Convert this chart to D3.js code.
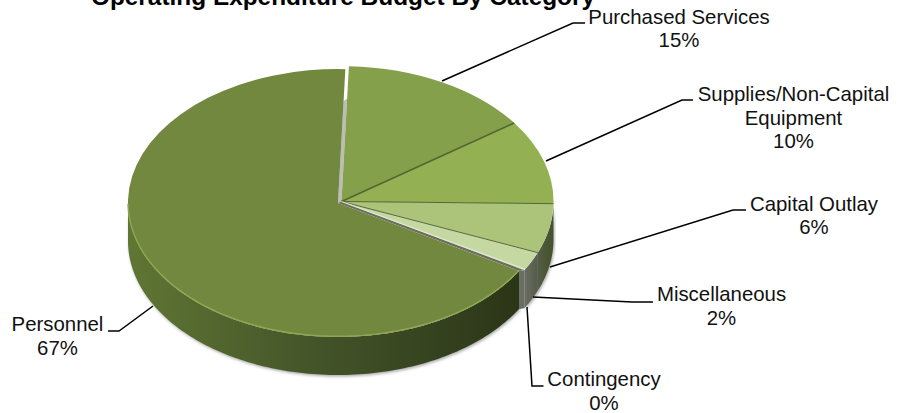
<!DOCTYPE html>
<html>
<head>
<meta charset="utf-8">
<script src="https://d3js.org/d3.v7.min.js"></script>
<style>
  html, body { margin: 0; padding: 0; background: #fff; }
  svg { display: block; }
  text { font-family: "Liberation Sans", Arial, sans-serif; fill: #111; }
</style>
</head>
<body>
<div id="chart"></div>
<script>
var categories = ["Purchased Services", "Supplies/Non-Capital Equipment", "Capital Outlay", "Miscellaneous", "Contingency", "Personnel"];
var values = [14.6, 10.1, 5.9, 2.2, 0.1, 67.1];
var topColors = ["#84a04b", "#93b053", "#abc47a", "#c5d8a2", "#9aa08a", "#73883f"];
var title = "Operating Expenditure Budget By Category";

// label layout, same order as categories
var labelLines = [["Purchased Services"], ["Supplies/Non-Capital", "Equipment"], ["Capital Outlay"], ["Miscellaneous"], ["Contingency"], ["Personnel"]];
var labelX = [679, 793.5, 814, 721.5, 604, 57.5];
var labelY = [23.5, 101, 210.5, 301, 386, 331];
var leaders = [
  [[442, 81], [573, 23], [585, 23]],
  [[546, 161], [682, 100], [693, 100]],
  [[550, 267], [733, 210], [746, 210]],
  [[533, 297], [632, 302], [653, 302]],
  [[527, 307], [532, 386], [543.5, 386]],
  [[153, 306], [119, 331], [108, 331]]
];

var width = 898, height = 413;
var depth = 38;
var mainE = {cx: 341.5, cy: 201.5, rx: 212, ry: 135.5};
var persE = {cx: 338, cy: 203, rx: 210, ry: 134};

var svg = d3.select("#chart").append("svg")
  .attr("width", width)
  .attr("height", height);

var defs = svg.append("defs");
defs.append("filter").attr("id", "soft").attr("x", "-5%").attr("y", "-5%").attr("width", "110%").attr("height", "110%")
  .append("feGaussianBlur").attr("stdDeviation", 1.6);

var wallGrad = defs.append("linearGradient").attr("id", "wallGrad")
  .attr("gradientUnits", "userSpaceOnUse")
  .attr("x1", 128).attr("x2", 520).attr("y1", 0).attr("y2", 0);
wallGrad.append("stop").attr("offset", "0%").attr("stop-color", "#607633");
wallGrad.append("stop").attr("offset", "45%").attr("stop-color", "#45562a");
wallGrad.append("stop").attr("offset", "100%").attr("stop-color", "#2b3517");

var rightGrad = defs.append("linearGradient").attr("id", "rightGrad")
  .attr("gradientUnits", "userSpaceOnUse")
  .attr("x1", 522).attr("x2", 553).attr("y1", 0).attr("y2", 0);
rightGrad.append("stop").attr("offset", "0%").attr("stop-color", "#6d7167");
rightGrad.append("stop").attr("offset", "50%").attr("stop-color", "#565c4a");
rightGrad.append("stop").attr("offset", "75%").attr("stop-color", "#4b5735");
rightGrad.append("stop").attr("offset", "100%").attr("stop-color", "#46522e");

var pie = d3.pie().sort(null).startAngle(2 * Math.PI / 180).endAngle(362 * Math.PI / 180);
var arcs = pie(values);
var arc = d3.arc().innerRadius(0).outerRadius(1);
var personnel = arcs[5];

function pt(e, a, dy) {
  return [e.cx + e.rx * Math.sin(a), e.cy - e.ry * Math.cos(a) + (dy || 0)];
}

function center(e) {
  return [e.cx, e.cy];
}

function along(a, b, t) {
  return [a[0] + (b[0] - a[0]) * t, a[1] + (b[1] - a[1]) * t];
}

// outer wall of a slice, only the front half of the ellipse shows
function wallPath(e, a0, a1) {
  var from = Math.max(a0, Math.PI / 2), to = Math.min(a1, 3 * Math.PI / 2);
  if (from >= to) return null;
  var steps = d3.range(from, to, 0.02).concat([to]);
  var upper = steps.map(function (a) { return pt(e, a, 0); });
  var lower = steps.slice().reverse().map(function (a) { return pt(e, a, depth); });
  return "M" + upper.concat(lower).join("L") + "Z";
}

// soft shadow around the body
var smallWalls = wallPath(mainE, Math.PI / 2, personnel.startAngle);
[wallPath(persE, personnel.startAngle, personnel.endAngle), smallWalls].forEach(function (p) {
  svg.append("path")
    .attr("d", p)
    .attr("fill", "#555")
    .attr("opacity", 0.5)
    .attr("filter", "url(#soft)")
    .attr("transform", "translate(1,1.5)");
});

// inner face seen through the gap at the top
var gapAngle = 2 * Math.PI / 180;
svg.append("path")
  .attr("d", d3.line()([
    center(persE),
    along(center(persE), pt(persE, gapAngle), 0.76),
    along(center(mainE), pt(mainE, gapAngle), 0.76),
    center(mainE)
  ]))
  .attr("fill", "#bdbdb8");

// inner face below the miscellaneous slice
svg.append("path")
  .attr("d", d3.line()([center(persE), pt(persE, personnel.startAngle), pt(mainE, personnel.startAngle), center(mainE)]))
  .attr("fill", "#6c6e62");

// walls, back to front
arcs.forEach(function (d, i) {
  if (i === 5) return;
  var p = wallPath(mainE, d.startAngle, d.endAngle);
  if (p) {
    svg.append("path").attr("d", p).attr("fill", "url(#rightGrad)");
  }
});

// cut face of personnel next to the small slices
var cut = pt(persE, personnel.startAngle);
var cutOuter = pt(mainE, personnel.startAngle);
svg.append("path")
  .attr("d", d3.line()([cut, cutOuter, [cutOuter[0], cutOuter[1] + depth], [cut[0], cut[1] + depth]]))
  .attr("fill", "#696d62");

svg.append("path")
  .attr("d", wallPath(persE, personnel.startAngle, personnel.endAngle))
  .attr("fill", "url(#wallGrad)");

// top faces
arcs.forEach(function (d, i) {
  var e = i === 5 ? persE : mainE;
  svg.append("path")
    .attr("d", arc(d))
    .attr("transform", "translate(" + e.cx + "," + e.cy + ") scale(" + e.rx + "," + e.ry + ")")
    .attr("fill", topColors[i]);
});

// lighter rim on the personnel top face
var rimAngles = d3.range(personnel.startAngle, 3 * Math.PI / 2, 0.02);
svg.append("path")
  .attr("d", d3.line()(rimAngles.map(function (a) { return pt(persE, a, -0.7); })))
  .attr("fill", "none")
  .attr("stroke", "#8fa655")
  .attr("stroke-width", 1.4);

// dark seams between the slices
[0, 1, 2].forEach(function (i) {
  var end = pt(mainE, arcs[i].endAngle);
  svg.append("line")
    .attr("x1", mainE.cx).attr("y1", mainE.cy)
    .attr("x2", end[0]).attr("y2", end[1])
    .attr("stroke", i === 0 ? "#55652f" : "#4c5a2c")
    .attr("stroke-width", i === 0 ? 1.6 : 0.9);
});

// pale edge along the bottom of the miscellaneous slice
var miscEnd = pt(mainE, arcs[3].endAngle);
svg.append("line")
  .attr("x1", mainE.cx).attr("y1", mainE.cy)
  .attr("x2", miscEnd[0]).attr("y2", miscEnd[1])
  .attr("stroke", "#e2ecce")
  .attr("stroke-width", 1.2);

// leader lines
var leaderLine = d3.line();
leaders.forEach(function (l) {
  svg.append("path")
    .attr("d", leaderLine(l))
    .attr("fill", "none")
    .attr("stroke", "#000")
    .attr("stroke-width", 1.5);
});

// labels
categories.forEach(function (c, i) {
  var t = svg.append("text")
    .attr("text-anchor", "middle")
    .attr("font-size", 20.4);
  labelLines[i].concat([Math.round(values[i]) + "%"]).forEach(function (line, j) {
    t.append("tspan")
      .attr("x", labelX[i])
      .attr("y", labelY[i] + j * 23.7)
      .text(line);
  });
});

svg.append("text")
  .attr("x", 343)
  .attr("y", 5)
  .attr("text-anchor", "middle")
  .attr("font-size", 24.4)
  .attr("font-weight", "bold")
  .style("fill", "#000")
  .text(title);
</script>
</body>
</html>
